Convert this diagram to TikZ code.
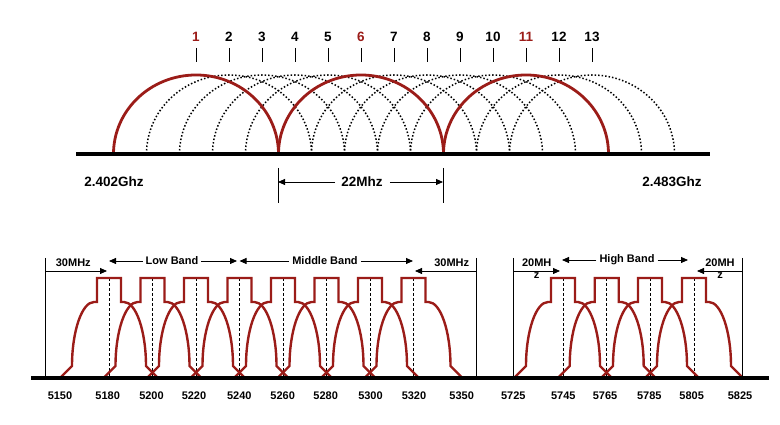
\documentclass[tikz,border=0pt]{standalone}
\usepackage{fontspec}
\setmainfont{Liberation Sans}
\usetikzlibrary{arrows.meta}
\definecolor{wred}{RGB}{155,28,24}
\begin{document}
\begin{tikzpicture}[x=1pt,y=1pt,
  base/.style={line width=3.5pt},
  redarc/.style={draw=wred,line width=2.8pt},
  dotarc/.style={line width=1.5pt,dash pattern=on 1.5pt off 2pt},
  tickln/.style={line width=0.8pt},
  toplab/.style={font=\bfseries\fontsize{13.5}{15}\selectfont, inner sep=0pt},
  botlab/.style={font=\bfseries\fontsize{11}{12}\selectfont, inner sep=0pt},
  mask/.style={draw=wred,line width=2.4pt,line join=miter},
  cline/.style={line width=0.7pt,dash pattern=on 3pt off 2pt},
  edgeln/.style={line width=0.7pt},
  dimarrow/.style={line width=0.8pt,-{Triangle[length=7pt,width=6pt]}},
]
\useasboundingbox (0,0) rectangle (780,425);

% ---------------- top: 2.4 GHz channels ----------------
\foreach \n in {1,...,13}{
  \pgfmathsetmacro\cx{196+33*(\n-1)}
  \coordinate (ch\n) at (\cx,271);
  \draw[tickln] (\cx,377) -- (\cx,363);
}
\foreach \n in {2,3,4,5,7,8,9,10,12,13}{
  \pgfmathsetmacro\cx{196+33*(\n-1)}
  \node[toplab] (n\n) at (\cx,388) {\n};
  \draw[dotarc] (\cx-82.5,271) arc[start angle=180,end angle=0,x radius=82.5,y radius=79];
}
\foreach \n in {1,6,11}{
  \pgfmathsetmacro\cx{196+33*(\n-1)}
  \node[toplab,text=wred] (n\n) at (\cx,388) {\n};
  \draw[redarc] (\cx-82.5,271) arc[start angle=180,end angle=0,x radius=82.5,y radius=79];
}
\coordinate (tL) at (76,271);
\coordinate (tR) at (710,271);
\draw[base] (tL) -- (tR);

\node[toplab] (g1) at (114,243) {2.402Ghz};
\node[toplab] (g2) at (672,243) {2.483Ghz};
\node[toplab] (b22) at (362,243) {22Mhz};
\coordinate (v1a) at (278,257); \coordinate (v1b) at (278,222);
\coordinate (v2a) at (443,257); \coordinate (v2b) at (443,222);
\draw[edgeln] (v1a) -- (v1b);
\draw[edgeln] (v2a) -- (v2b);
\coordinate (a22l) at (278,243);
\coordinate (a22r) at (443,243);
\draw[dimarrow] ([xshift=-6pt]b22.west) -- (a22l);
\draw[dimarrow] ([xshift=7pt]b22.east) -- (a22r);

% ---------------- bottom: 5 GHz channels ----------------
\foreach \c in {109,152.5,196,239.5,283,326.5,370,413.5,563,606.7,650,694}{
  \draw[cline] (\c,147) -- (\c,47);
}
\foreach \c in {109,152.5,196,239.5,283,326.5,370,413.5,563,606.7,650,694}{
  \draw[mask] (\c-49,47) -- (\c-37,59)
     .. controls (\c-37,94) and (\c-27,123) .. (\c-15,123)
     -- (\c-12,123) -- (\c-12,147) -- (\c+12,147) -- (\c+12,123) -- (\c+15,123)
     .. controls (\c+27,123) and (\c+37,94) .. (\c+37,59)
     -- (\c+49,47);
}
\coordinate (bL) at (31,47);
\coordinate (bR) at (769,47);

% band edge lines
\foreach \x/\nm in {45.7/e1,476.7/e2,513.3/e3,742.7/e4}{
  \coordinate (\nm t) at (\x,167);
  \coordinate (\nm b) at (\x,47);
  \draw[edgeln] (\nm t) -- (\nm b);
}
\draw[base] (bL) -- (bR);

% frequency labels
\foreach \x/\f in {60/5150,107.7/5180,151.5/5200,194/5220,239.3/5240,282.7/5260,325.7/5280,370.5/5300,414/5320,461.7/5350,513.3/5725,563.3/5745,605/5765,649.3/5785,691.7/5805,740/5825}{
  \node[botlab] (f\f) at (\x,29) {\f};
}

% band arrows
\node[botlab] (m30l) at (73.3,162) {30MHz};
\coordinate (a30l1) at (45.7,154); \coordinate (a30l2) at (107,154);
\draw[dimarrow] (a30l1) -- (a30l2);

\node[botlab,inner xsep=3pt] (low) at (172,164) {Low Band};
\coordinate (lowl) at (109,164); \coordinate (lowr) at (237,164);
\draw[dimarrow] (low.west) -- (lowl);
\draw[dimarrow] (low.east) -- (lowr);

\node[botlab,inner xsep=3pt] (mid) at (325,164) {Middle Band};
\coordinate (midl) at (239.5,164); \coordinate (midr) at (413,164);
\draw[dimarrow] (mid.west) -- (midl);
\draw[dimarrow] (mid.east) -- (midr);

\node[botlab] (m30r) at (451.7,162) {30MHz};
\coordinate (a30r1) at (476.7,154); \coordinate (a30r2) at (415,154);
\draw[dimarrow] (a30r1) -- (a30r2);

\node[botlab] (m20l) at (536.7,162) {20MH};
\node[botlab] (z1) at (536.7,149) {z};
\coordinate (a20l1) at (513.3,154); \coordinate (a20l2) at (560,154);
\draw[dimarrow] (a20l1) -- (a20l2);

\node[botlab,inner xsep=3pt] (high) at (627,165) {High Band};
\coordinate (highl) at (562,165); \coordinate (highr) at (688,165);
\draw[dimarrow] (high.west) -- (highl);
\draw[dimarrow] (high.east) -- (highr);

\node[botlab] (m20r) at (720,162) {20MH};
\node[botlab] (z2) at (720,149) {z};
\coordinate (a20r1) at (742.7,154); \coordinate (a20r2) at (697,154);
\draw[dimarrow] (a20r1) -- (a20r2);
\end{tikzpicture}
\end{document}
